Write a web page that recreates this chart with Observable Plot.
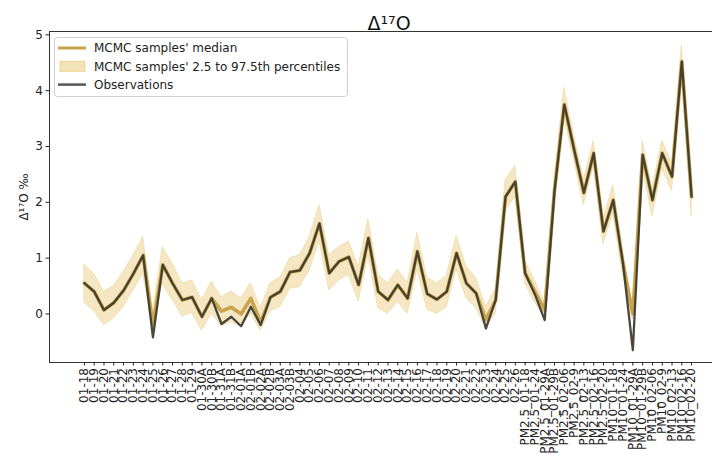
<!DOCTYPE html>
<html>
<head>
<meta charset="utf-8">
<script src="https://cdn.jsdelivr.net/npm/d3@7"></script>
<script src="https://cdn.jsdelivr.net/npm/@observablehq/plot@0.6"></script>
<style>
  body { margin: 0; background: #fff; font-family: "DejaVu Sans", sans-serif; }
  #chart { position: relative; width: 712px; height: 463px; overflow: hidden; }
</style>
</head>
<body>
<div id="chart"></div>
<script>
// Sample names along the x axis
const samples = [
  "01-18","01-19","01-20","01-21","01-22","01-23","01-24","01-25","01-26","01-27","01-28","01-29",
  "01-30A","01-30B","01-31A","01-31B","02-01A","02-01B","02-02A","02-02B","02-03A","02-03B",
  "02-04","02-05","02-06","02-07","02-08","02-09","02-10","02-11","02-12","02-13","02-14","02-15",
  "02-16","02-17","02-18","02-19","02-20","02-21","02-22","02-23","02-24","02-25","02-26",
  "PM2.5_01-18","PM2.5_01-24","PM2.5_01-29A","PM2.5_01-29B","PM2.5_02-06","PM2.5_02-9","PM2.5_02-13","PM2.5_02-16","PM2.5_02-20",
  "PM10_01-18","PM10_01-24","PM10_01-29A","PM10_01-29B","PM10_02-06","PM10_02-9","PM10_02-13","PM10_02-16","PM10_02-20"
];

// Observed Δ17O (‰)
const observed = [
  0.55, 0.40, 0.07, 0.20, 0.42, 0.72, 1.05, -0.42, 0.88, 0.55, 0.25, 0.30,
  -0.05, 0.28, -0.18, -0.05, -0.22, 0.13, -0.20, 0.30, 0.40, 0.75,
  0.78, 1.09, 1.62, 0.73, 0.94, 1.02, 0.52, 1.36, 0.40, 0.25, 0.52, 0.28,
  1.12, 0.36, 0.26, 0.40, 1.09, 0.55, 0.37, -0.26, 0.25, 2.10, 2.37,
  0.73, 0.35, -0.11, 2.20, 3.75, 2.95, 2.17, 2.88, 1.48,
  2.04, 0.90, -0.65, 2.85, 2.04, 2.88, 2.46, 4.52, 2.10
];

// Median of the MCMC samples (‰)
const median = [
  0.55, 0.40, 0.07, 0.20, 0.42, 0.72, 1.05, -0.20, 0.88, 0.55, 0.25, 0.30,
  -0.05, 0.28, 0.05, 0.12, 0.00, 0.28, -0.15, 0.30, 0.40, 0.75,
  0.78, 1.09, 1.62, 0.73, 0.94, 1.02, 0.52, 1.36, 0.40, 0.25, 0.52, 0.28,
  1.12, 0.36, 0.26, 0.40, 1.09, 0.55, 0.37, -0.10, 0.25, 2.10, 2.37,
  0.73, 0.40, 0.07, 2.20, 3.75, 2.95, 2.17, 2.88, 1.48,
  2.04, 0.90, 0.00, 2.85, 2.04, 2.88, 2.46, 4.52, 2.10
];

// 2.5th and 97.5th percentiles of the MCMC samples (‰)
const p025 = [
  0.20, 0.05, -0.20, -0.08, 0.12, 0.42, 0.72, -0.28, 0.55, 0.25, -0.05, 0.02,
  -0.30, 0.00, -0.22, -0.15, -0.22, 0.00, -0.30, 0.05, 0.12, 0.45,
  0.48, 0.78, 1.30, 0.42, 0.60, 0.70, 0.22, 1.05, 0.10, 0.00, 0.22, 0.00,
  0.80, 0.08, 0.00, 0.12, 0.80, 0.28, 0.10, -0.25, 0.00, 1.85, 2.10,
  0.55, 0.20, -0.05, 2.00, 3.50, 2.75, 1.95, 2.65, 1.25,
  1.80, 0.70, -0.10, 2.60, 1.75, 2.60, 2.20, 4.30, 1.75
];
const p975 = [
  0.88, 0.72, 0.40, 0.50, 0.75, 1.05, 1.38, 0.05, 1.20, 0.90, 0.55, 0.60,
  0.25, 0.58, 0.30, 0.40, 0.28, 0.55, 0.10, 0.55, 0.65, 1.00,
  1.05, 1.38, 1.95, 1.05, 1.20, 1.30, 0.85, 1.70, 0.70, 0.55, 0.80, 0.55,
  1.45, 0.65, 0.55, 0.68, 1.40, 0.85, 0.65, 0.12, 0.45, 2.40, 2.65,
  0.95, 0.60, 0.20, 2.45, 4.05, 3.20, 2.40, 3.10, 1.70,
  2.30, 1.10, 0.10, 3.10, 2.25, 3.10, 2.70, 4.80, 2.20
];

const yTicks = [0, 1, 2, 3, 4, 5];

const rows = samples.map((s, i) => ({
  sample: s, obs: observed[i], med: median[i], lo: p025[i], hi: p975[i]
}));

const GOLD = "#c8a54c";
const BAND = "#f3e3b8";
const OBS = "#3b372e";

const chart = Plot.plot({
  width: 712,
  height: 463,
  marginTop: 31,
  marginBottom: 101,
  marginLeft: 49,
  marginRight: -16,
  style: { fontFamily: "DejaVu Sans, sans-serif", fontSize: "12px", color: "#222", background: "#fff", overflow: "hidden" },
  x: { type: "point", domain: samples, range: [79, 696] },
  y: { domain: [-0.87, 5.06] },
  marks: [
    Plot.areaY(rows, { x: "sample", y1: "lo", y2: "hi", fill: BAND, fillOpacity: 0.85, stroke: "#ecd594", strokeWidth: 1, strokeOpacity: 0.6 }),
    Plot.lineY(rows, { x: "sample", y: "med", stroke: GOLD, strokeWidth: 3.6 }),
    Plot.lineY(rows, { x: "sample", y: "obs", stroke: OBS, strokeWidth: 2.3, strokeOpacity: 0.92 }),
    Plot.frame({ stroke: "#333", strokeWidth: 1 }),
    Plot.axisY(yTicks, { tickSize: 3.5, tickPadding: 3, fontSize: 12, tickFormat: d3.format("d"), label: "Δ¹⁷O ‰", labelAnchor: "center", labelArrow: "none", labelOffset: 30 }),
    Plot.axisX({ tickRotate: -90, tickSize: 3.5, tickPadding: 2, fontSize: 12, label: null }),
    Plot.text(["Δ¹⁷O"], { frameAnchor: "top", dy: -15, fontSize: 19, fill: "#111" })
  ]
});

document.getElementById("chart").appendChild(chart);

// Legend box in the upper-left corner of the axes
const svg = d3.select(chart);
const lg = svg.append("g")
  .attr("font-family", "DejaVu Sans, sans-serif").attr("font-size", 12)
  .attr("fill", "#222").attr("text-anchor", "start");
lg.append("rect").attr("x", 54.5).attr("y", 37.5).attr("width", 293).attr("height", 59).attr("rx", 3)
  .attr("fill", "#fff").attr("fill-opacity", 0.8).attr("stroke", "#d0d0d0");
const items = [
  { label: "MCMC samples' median", kind: "line", color: GOLD, w: 3 },
  { label: "MCMC samples' 2.5 to 97.5th percentiles", kind: "patch" },
  { label: "Observations", kind: "line", color: "#555", w: 2.5 }
];
items.forEach((it, i) => {
  const cy = 48 + i * 18.3;
  if (it.kind === "line") {
    lg.append("line").attr("x1", 58).attr("x2", 86).attr("y1", cy).attr("y2", cy)
      .attr("stroke", it.color).attr("stroke-width", it.w);
  } else {
    lg.append("rect").attr("x", 60).attr("y", cy - 5).attr("width", 25).attr("height", 10)
      .attr("fill", BAND).attr("stroke", "#ecd594");
  }
  lg.append("text").attr("x", 94).attr("y", cy).attr("dy", "0.35em").attr("text-anchor", "start").text(it.label);
});
</script>
</body>
</html>
